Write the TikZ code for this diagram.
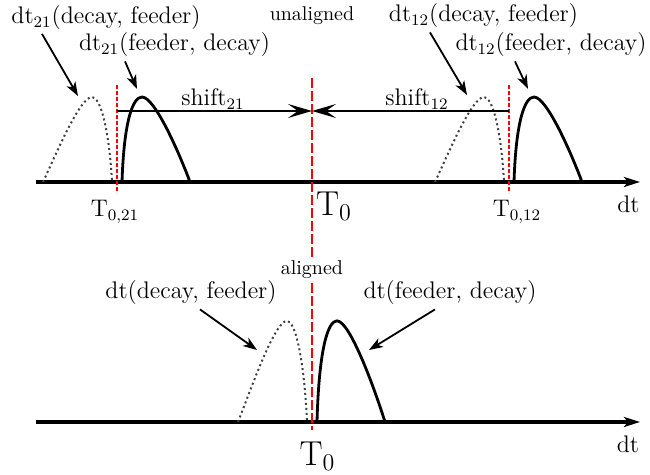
\documentclass[tikz,border=0pt,12pt]{standalone}
\usetikzlibrary{arrows.meta}
\begin{document}
\begin{tikzpicture}[x=0.5pt, y=-0.5pt, inner sep=2pt,
  asse/.style={line width=1.6pt, -{Stealth[length=8pt, width=5pt, inset=2pt]}},
  freccia/.style={line width=0.9pt, -{Stealth[length=7pt, width=5pt, inset=2pt]}},
  spost/.style={line width=1pt, -{Stealth[length=12pt, width=7pt, inset=5pt]}},
  zero/.style={red, line width=1pt, dash pattern=on 5pt off 1.5pt},
  zerob/.style={red, line width=1pt, dash pattern=on 2pt off 1pt},
  piena/.style={line width=1.4pt},
  punti/.style={black!75, line width=1pt, dash pattern=on 1pt off 1.5pt}]

\useasboundingbox (0,0) rectangle (650,475);

% assi
\draw[asse] (36,182) -- (640,182);
\draw[asse] (36,422) -- (640,422);
\node (dta) at (628.5,204) {dt};
\node (dtb) at (628,444) {dt};

% zeri
\node[font=\footnotesize] (unal) at (312,16) {unaligned};
\node[font=\footnotesize] (al) at (312,270) {aligned};
\draw[zero] (312,78) -- (al.north);
\draw[zero] (al.south) -- (312,430);
\draw[zerob] (117,85) -- (117,193);
\draw[zerob] (509,85) -- (509,193);
\node (t21) at (115,212) {T$_{0{,}21}$};
\node (t12) at (517,212) {T$_{0{,}12}$};
\node[font=\Large] (t0a) at (334,206) {T$_0$};
\node[font=\Large] (t0b) at (317.5,456.5) {T$_0$};

% curve
\begin{scope}[shift={(117,182)}]
\draw[punti] (-74,0) .. controls (-60,-30) and (-37,-85) .. (-25,-85) .. controls (-17,-85) and (-8,-55) .. (-5,0);
\draw[piena] (5,0) .. controls (7,-62) and (16,-85) .. (25,-85) .. controls (38,-85) and (63,-27) .. (73,0);
\end{scope}
\begin{scope}[shift={(509,182)}]
\draw[punti] (-74,0) .. controls (-60,-30) and (-37,-85) .. (-25,-85) .. controls (-17,-85) and (-8,-55) .. (-5,0);
\draw[piena] (5,0) .. controls (7,-62) and (16,-85) .. (25,-85) .. controls (38,-85) and (63,-27) .. (73,0);
\end{scope}
\begin{scope}[shift={(312,422)}, yscale=1.19]
\draw[punti] (-74,0) .. controls (-60,-30) and (-37,-85) .. (-25,-85) .. controls (-17,-85) and (-8,-55) .. (-5,0);
\draw[piena] (5,0) .. controls (7,-62) and (16,-85) .. (25,-85) .. controls (38,-85) and (63,-27) .. (73,0);
\end{scope}

% spostamenti
\coordinate (c21) at (117,111);
\coordinate (c0) at (312,111);
\coordinate (c12) at (509,111);
\draw[spost] (c21) -- (c0);
\draw[spost] (c12) -- (c0);
\node (s21) at (213,99) {shift$_{21}$};
\node (s12) at (417,99) {shift$_{12}$};

% etichette
\node (dA) at (106,17.5) {dt$_{21}$(decay, feeder)};
\node (fA) at (174.5,45) {dt$_{21}$(feeder, decay)};
\node (dB) at (483.5,16) {dt$_{12}$(decay, feeder)};
\node (fB) at (551,45) {dt$_{12}$(feeder, decay)};
\node (dC) at (191,293) {dt(decay, feeder)};
\node (fC) at (450,293) {dt(feeder, decay)};
\coordinate (pA) at (78,96);
\coordinate (pB) at (137,89);
\coordinate (pC) at (467,95);
\coordinate (pD) at (528,89);
\coordinate (pE) at (257,350);
\coordinate (pF) at (369,350);
\draw[freccia] (42,0 |- dA.south) -- (pA);
\draw[freccia] (125,0 |- fA.south) -- (pB);
\draw[freccia] (430,0 |- dB.south) -- (pC);
\draw[freccia] (515,0 |- fB.south) -- (pD);
\draw[freccia] (200,0 |- dC.south) -- (pE);
\draw[freccia] (435,0 |- fC.south) -- (pF);

\end{tikzpicture}
\end{document}
